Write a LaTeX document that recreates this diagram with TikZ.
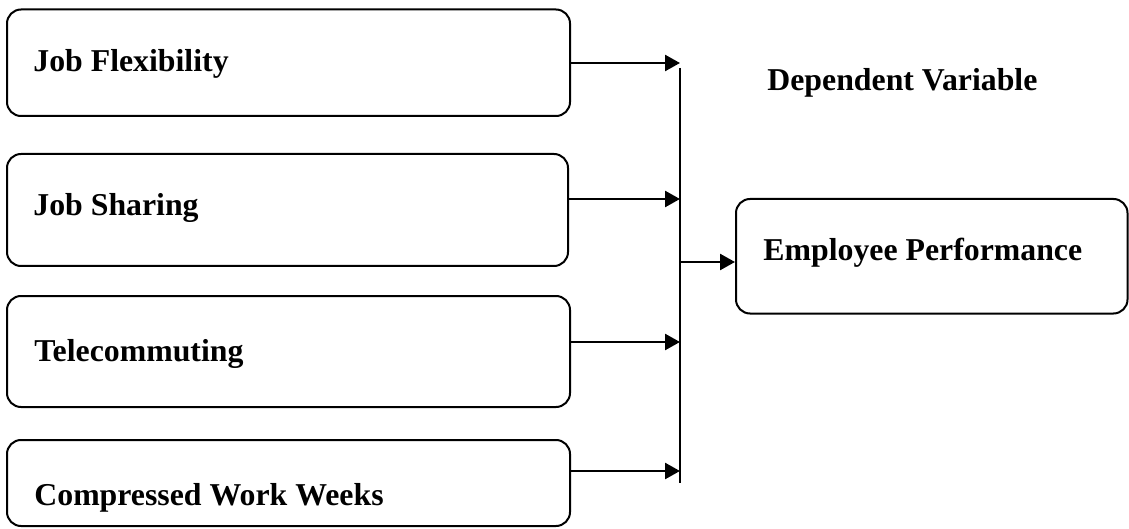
\documentclass[tikz,border=0pt]{standalone}
\usepackage{fontspec}
\setmainfont{Liberation Serif}
\usetikzlibrary{arrows.meta}
\tikzset{
  box/.style={draw=black, line width=1pt, rounded corners=7pt, inner sep=0pt, fill=white},
  lbl/.style={anchor=base west, inner sep=0pt, font=\fontsize{15.9}{19}\selectfont\bfseries},
  arr/.style={draw=black, line width=1.25pt, -{Triangle[length=7.5pt,width=8pt]}},
  bus/.style={draw=black, line width=0.9pt}
}
\begin{document}
\begin{tikzpicture}[x=0.5pt,y=-0.5pt]
\useasboundingbox (0,0) rectangle (1129,529);
% input boxes
\node[box, minimum width=281.5pt, minimum height=53.25pt] (b1) at (288.5,62.75) {};
\node[box, minimum width=280.5pt, minimum height=56pt] (b2) at (287.5,210) {};
\node[box, minimum width=281.5pt, minimum height=55.5pt] (b3) at (288.5,351.5) {};
\node[box, minimum width=281.5pt, minimum height=43pt] (b4) at (288.5,483) {};
% output box
\node[box, minimum width=195.75pt, minimum height=57.25pt] (ep) at (931.75,256.25) {};
% labels
\node[lbl] (t1) at (33,72) {Job Flexibility};
\node[lbl] (t2) at (33,216) {Job Sharing};
\node[lbl] (t3) at (34,361) {Telecommuting};
\node[lbl] (t4) at (34,505) {Compressed Work Weeks};
\node[lbl] (tep) at (763,261) {Employee Performance};
\node[lbl] (dv) at (767,91) {Dependent Variable};
% bus line
\coordinate (bt) at (680,68);
\coordinate (bb) at (680,483);
\draw[bus] (bt) -- (bb);
% arrow end points on bus
\coordinate (e1) at (680,63);
\coordinate (e2) at (680,199);
\coordinate (e3) at (680,342);
\coordinate (e4) at (680,471);
\coordinate (eo) at (680,262);
\draw[arr] (b1.east |- e1) -- (e1);
\draw[arr] (b2.east |- e2) -- (e2);
\draw[arr] (b3.east |- e3) -- (e3);
\draw[arr] (b4.east |- e4) -- (e4);
\draw[arr] (eo) -- (ep.west |- eo);
\end{tikzpicture}
\end{document}
